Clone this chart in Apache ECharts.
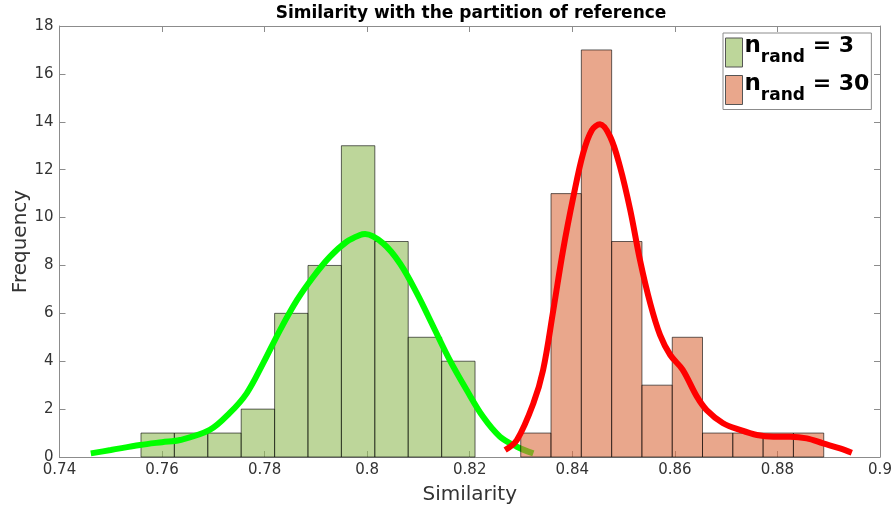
<!DOCTYPE html>
<html>
<head>
<meta charset="utf-8">
<style>
  html, body { margin: 0; padding: 0; background: #fff; }
  #chart { width: 893px; height: 509px; }
</style>
<script src="https://cdn.jsdelivr.net/npm/echarts@6/dist/echarts.min.js"></script>
</head>
<body>
<div id="chart"></div>
<script>
// Histogram bin edges and counts for the two runs
const greenBinEdges = [0.75589, 0.76240, 0.76892, 0.77543, 0.78195, 0.78846, 0.79497, 0.80149, 0.80800, 0.81452, 0.82103];
const greenCounts = [1, 1, 1, 2, 6, 8, 13, 9, 5, 4];
const redBinEdges = [0.82994, 0.83585, 0.84176, 0.84767, 0.85358, 0.85949, 0.86539, 0.87130, 0.87721, 0.88312, 0.88903];
const redCounts = [1, 11, 17, 9, 3, 5, 1, 1, 1, 1];

// Density curves (scaled to frequency)
const greenCurveX = [0.7461, 0.7500, 0.7557, 0.7600, 0.7635, 0.7693, 0.7732, 0.7765, 0.7797, 0.7830, 0.7863, 0.7895, 0.7927, 0.7960, 0.7986, 0.7996, 0.8031, 0.8064, 0.8097, 0.8129, 0.8161, 0.8194, 0.8226, 0.8259, 0.8292, 0.8324];
const greenCurveY = [0.15, 0.29, 0.50, 0.62, 0.71, 1.13, 1.84, 2.66, 3.91, 5.30, 6.55, 7.53, 8.36, 8.99, 9.27, 9.31, 8.92, 8.08, 6.83, 5.44, 4.05, 2.80, 1.68, 0.85, 0.43, 0.15];
const redCurveX = [0.8269, 0.8292, 0.8324, 0.8343, 0.8363, 0.8382, 0.8402, 0.8421, 0.8438, 0.8454, 0.8474, 0.8493, 0.8513, 0.8532, 0.8552, 0.8571, 0.8591, 0.8615, 0.8643, 0.8662, 0.8694, 0.8727, 0.8760, 0.8792, 0.8825, 0.8857, 0.8889, 0.8922, 0.8945];
const redCurveY = [0.29, 0.71, 2.24, 3.63, 6.14, 8.64, 10.86, 12.68, 13.65, 13.90, 13.37, 12.12, 10.31, 8.22, 6.41, 5.10, 4.26, 3.65, 2.52, 1.96, 1.41, 1.13, 0.92, 0.85, 0.85, 0.78, 0.57, 0.36, 0.18];

// Axis ticks
const xMin = 0.74, xMax = 0.9, xStep = 0.02;
const yMin = 0, yMax = 18, yStep = 2;

const seriesNames = ['n_rand = 3', 'n_rand = 30'];
const FONT = 'DejaVu Sans';

function binData(edges, counts) {
  return counts.map((c, i) => [edges[i], edges[i + 1], c]);
}
function curveData(xs, ys) {
  return xs.map((x, i) => [x, ys[i]]);
}
function renderBin(params, api) {
  const p0 = api.coord([api.value(0), 0]);
  const p1 = api.coord([api.value(1), api.value(2)]);
  return {
    type: 'rect',
    shape: { x: p0[0], y: p1[1], width: p1[0] - p0[0], height: p0[1] - p1[1] },
    style: { fill: api.visual('color'), stroke: 'rgba(0,0,0,0.6)', lineWidth: 1 }
  };
}

const chart = echarts.init(document.getElementById('chart'));
const axisGray = '#8c8c8c';
const labelColor = '#333';

chart.setOption({
  animation: false,
  backgroundColor: '#fff',
  title: {
    text: 'Similarity with the partition of reference',
    left: 466, textAlign: 'center', top: 0,
    textStyle: { fontFamily: FONT, fontSize: 17, fontWeight: 'bold', color: '#000' }
  },
  grid: { left: 59.5, right: 13, top: 26, bottom: 52, outerBoundsMode: 'none', containLabel: false },
  legend: {
    data: [
      { name: seriesNames[0], itemStyle: { borderColor: '#555', borderWidth: 1 } },
      { name: seriesNames[1], itemStyle: { borderColor: '#555', borderWidth: 1 } }
    ],
    icon: 'rect',
    orient: 'vertical',
    left: 723, top: 33,
    itemWidth: 17, itemHeight: 29, itemGap: 2.5,
    padding: [2, 2, 2, 2],
    borderColor: axisGray, borderWidth: 1, backgroundColor: '#fff',
    selectedMode: false,
    formatter: function (name) {
      return '{n|n}{s|rand}{e| = ' + name.split(' = ')[1] + '}';
    },
    textStyle: {
      rich: {
        n: { fontFamily: FONT, fontWeight: 'bold', fontSize: 23, color: '#000', lineHeight: 22, padding: [0, 0, 12, -3] },
        s: { fontFamily: FONT, fontWeight: 'bold', fontSize: 17, color: '#000', lineHeight: 18, padding: [11, 0, 0, 0] },
        e: { fontFamily: FONT, fontWeight: 'bold', fontSize: 22, color: '#000', lineHeight: 22, padding: [0, 0, 12, 0] }
      }
    }
  },
  xAxis: [
    {
      type: 'value', min: xMin, max: xMax, interval: xStep,
      name: 'Similarity', nameLocation: 'middle', nameGap: 28, nameMoveOverlap: false,
      nameTextStyle: { fontFamily: FONT, fontSize: 20, color: labelColor },
      axisLine: { lineStyle: { color: axisGray } },
      axisTick: { inside: true, length: 6, lineStyle: { color: axisGray } },
      axisLabel: { fontFamily: FONT, fontSize: 15, color: labelColor, margin: 6 },
      splitLine: { show: false }
    },
    {
      type: 'value', position: 'top', min: xMin, max: xMax, interval: xStep,
      axisLine: { onZero: false, lineStyle: { color: axisGray } },
      axisTick: { inside: true, length: 6, lineStyle: { color: axisGray } },
      axisLabel: { show: false },
      splitLine: { show: false }
    }
  ],
  yAxis: [
    {
      type: 'value', min: yMin, max: yMax, interval: yStep,
      name: 'Frequency', nameLocation: 'middle', nameGap: 29, nameMoveOverlap: false,
      nameTextStyle: { fontFamily: FONT, fontSize: 20, color: labelColor },
      axisLine: { show: true, lineStyle: { color: axisGray } },
      axisTick: { show: true, inside: true, length: 6, lineStyle: { color: axisGray } },
      axisLabel: { fontFamily: FONT, fontSize: 15, color: labelColor, margin: 6 },
      splitLine: { show: false }
    },
    {
      type: 'value', position: 'right', min: yMin, max: yMax, interval: yStep,
      axisLine: { show: true, onZero: false, lineStyle: { color: axisGray } },
      axisTick: { show: true, inside: true, length: 6, lineStyle: { color: axisGray } },
      axisLabel: { show: false },
      splitLine: { show: false }
    }
  ],
  series: [
    {
      name: seriesNames[0], type: 'custom', renderItem: renderBin, z: 2,
      itemStyle: { color: 'rgba(145,186,87,0.6)' },
      encode: { x: [0, 1], y: 2 },
      data: binData(greenBinEdges, greenCounts)
    },
    {
      type: 'line', z: 3, smooth: 0.35, showSymbol: false, silent: true,
      lineStyle: { color: '#00ff00', width: 6, cap: 'butt' },
      data: curveData(greenCurveX, greenCurveY)
    },
    {
      name: seriesNames[1], type: 'custom', renderItem: renderBin, z: 4,
      itemStyle: { color: 'rgba(218,108,63,0.6)' },
      encode: { x: [0, 1], y: 2 },
      data: binData(redBinEdges, redCounts)
    },
    {
      type: 'line', z: 5, smooth: 0.35, showSymbol: false, silent: true,
      lineStyle: { color: '#ff0000', width: 6, cap: 'butt' },
      data: curveData(redCurveX, redCurveY)
    }
  ]
});
</script>
</body>
</html>
